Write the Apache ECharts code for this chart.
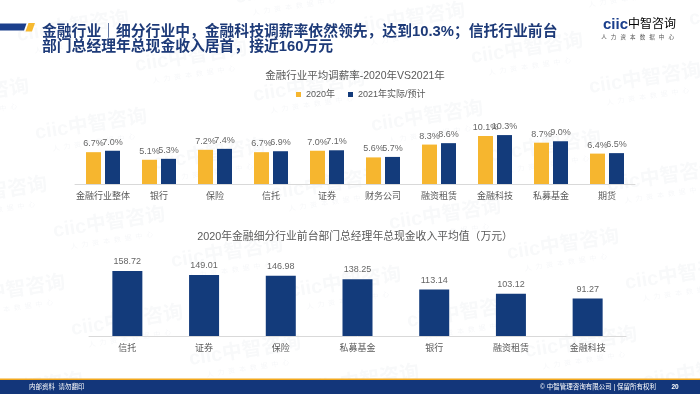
<!DOCTYPE html>
<html><head><meta charset="utf-8">
<script src="https://cdn.jsdelivr.net/npm/echarts@6/dist/echarts.min.js"></script>
<style>html,body{margin:0;padding:0;background:#fff}#c{width:700px;height:394px}</style>
</head><body><div id="c"></div>
<script>
const rateCategories = ['金融行业整体','银行','保险','信托','证券','财务公司','融资租赁','金融科技','私募基金','期货'];
const rate2020 = [6.7,5.1,7.2,6.7,7.0,5.6,8.3,10.1,8.7,6.4];
const rate2021 = [7.0,5.3,7.4,6.9,7.1,5.7,8.6,10.3,9.0,6.5];
const seriesNames = ['2020年','2021年实际/预计'];
const incomeCategories = ['信托','证券','保险','私募基金','银行','融资租赁','金融科技'];
const incomeValues = [158.72,149.01,146.98,138.25,113.14,103.12,91.27];
const headline = ['金融行业｜细分行业中，金融科技调薪率依然领先，达到10.3%；信托行业前台','部门总经理年总现金收入居首，接近160万元'];
const chartTitles = ['金融行业平均调薪率-2020年VS2021年','2020年金融细分行业前台部门总经理年总现金收入平均值（万元）'];
const footerLeft = '内部资料  请勿翻印';
const footerRight = '© 中智管理咨询有限公司 | 保留所有权利';
const pageNo = '20';

const FONT = "'Liberation Sans','Noto Sans CJK SC',sans-serif";
const ORANGE = '#F6B62F';
const NAVY = '#133B7B';
const GRAY = '#595959';

function txt(x, y, text, font, fill, align, extra) {
  return Object.assign({type:'text', silent:true, style:{x:x, y:y, text:text, font:font, fill:fill,
    align:align||'left', verticalAlign:'middle', textAlign:align||'left', textVerticalAlign:'middle'}}, extra||{});
}

const graphics = [];
// watermarks
for (let i = -4; i <= 5; i++) {
  for (let j = -2; j <= 4; j++) {
    const cx = 228 + i*118 + j*100, cy = 258 + i*30 - j*68;
    if (cx < -60 || cx > 760 || cy < -30 || cy > 420) continue;
    graphics.push({type:'group', x:cx, y:cy, rotation:0.15, z:-10, silent:true, children:[
      {type:'text', silent:true, style:{x:0, y:-5, text:'ciic中智咨询', font:'bold 20px '+FONT, fill:'rgba(30,55,110,0.032)', align:'center', verticalAlign:'middle', textAlign:'center', textVerticalAlign:'middle'}},
      {type:'text', silent:true, style:{x:0, y:13, text:'人  力  资  本  数  据  中  心', font:'7px '+FONT, fill:'rgba(30,55,110,0.04)', align:'center', verticalAlign:'middle', textAlign:'center', textVerticalAlign:'middle'}}
    ]});
  }
}
// header marks
graphics.push({type:'polygon', silent:true, shape:{points:[[0,23.5],[26.5,23.5],[24,30.5],[0,30.5]]}, style:{fill:'#1B3F8C'}});
graphics.push({type:'polygon', silent:true, shape:{points:[[28.5,23],[35,23],[32,31.5],[25.5,31.5]]}, style:{fill:'#F6B930'}});
graphics.push(txt(42, 31.5, headline[0], 'bold 14.8px '+FONT, '#1D3A78'));
graphics.push(txt(42, 47, headline[1], 'bold 14.8px '+FONT, '#1D3A78'));
// logo
graphics.push({type:'text', silent:true, style:{x:603, y:25, text:'{a|ciic}{b|中智咨询}', verticalAlign:'middle', textVerticalAlign:'middle',
  rich:{a:{font:'bold 15px '+FONT, fill:'#1B3F8C', fontWeight:'bold', fontSize:15, color:'#1B3F8C'}, b:{fontSize:12, color:'#1B3F8C', fontFamily:FONT}}}});
const sub = '人力资本数据中心';
for (let k = 0; k < sub.length; k++) {
  graphics.push(txt(604 + k*9.6, 37.5, sub[k], '5.5px '+FONT, '#555', 'center'));
}
// chart titles
graphics.push(txt(355, 76, chartTitles[0], '10.5px '+FONT, GRAY, 'center'));
graphics.push(txt(355, 237, chartTitles[1], '10.8px '+FONT, GRAY, 'center'));
// footer
graphics.push({type:'rect', silent:true, shape:{x:0, y:378.5, width:700, height:16}, style:{fill:'#F2A81D'}});
graphics.push({type:'rect', silent:true, shape:{x:0, y:380, width:700, height:14}, style:{fill:'#13367A'}});
graphics.push(txt(29, 387.5, footerLeft, '6.5px '+FONT, '#fff'));
graphics.push(txt(656, 387.5, footerRight, '6.5px '+FONT, '#fff', 'right'));
graphics.push(txt(675, 387.5, pageNo, 'bold 6.5px '+FONT, '#fff', 'center'));

const chart = echarts.init(document.getElementById('c'), null, {renderer:'canvas'});
chart.setOption({
  animation:false,
  backgroundColor:'#fff',
  textStyle:{fontFamily:FONT},
  graphic:graphics,
  legend:{data:seriesNames, left:296, top:90, padding:0, itemWidth:5, itemHeight:5, itemGap:13, icon:'rect',
    textStyle:{fontSize:9, color:GRAY, fontFamily:FONT}},
  grid:[
    {left:75, width:560, top:127, height:57},
    {left:89, width:537, top:254, height:82}
  ],
  xAxis:[
    {type:'category', gridIndex:0, data:rateCategories, axisLine:{lineStyle:{color:'#D9D9D9'}}, axisTick:{show:false},
      axisLabel:{fontSize:9, color:GRAY, margin:8, interval:0, fontFamily:FONT}},
    {type:'category', gridIndex:1, data:incomeCategories, axisLine:{lineStyle:{color:'#D9D9D9'}}, axisTick:{show:false},
      axisLabel:{fontSize:9, color:GRAY, margin:8, interval:0, fontFamily:FONT}}
  ],
  yAxis:[
    {type:'value', gridIndex:0, min:0, max:12, show:false, splitLine:{show:false}},
    {type:'value', gridIndex:1, min:0, max:200, show:false, splitLine:{show:false}}
  ],
  series:[
    {name:seriesNames[0], type:'bar', xAxisIndex:0, yAxisIndex:0, data:rate2020, barWidth:15, barGap:'27%', itemStyle:{color:ORANGE},
      label:{show:true, position:'top', distance:4, fontSize:9, color:'#666', fontFamily:FONT, formatter:p=>p.value.toFixed(1)+'%'}},
    {name:seriesNames[1], type:'bar', xAxisIndex:0, yAxisIndex:0, data:rate2021, barWidth:15, barGap:'27%', itemStyle:{color:NAVY},
      label:{show:true, position:'top', distance:4, fontSize:9, color:'#666', fontFamily:FONT, formatter:p=>p.value.toFixed(1)+'%'}},
    {name:'收入', type:'bar', xAxisIndex:1, yAxisIndex:1, data:incomeValues, barWidth:30, itemStyle:{color:NAVY},
      label:{show:true, position:'top', distance:5, fontSize:9, color:'#666', fontFamily:FONT, formatter:p=>p.value.toFixed(2)}}
  ]
});
</script></body></html>
